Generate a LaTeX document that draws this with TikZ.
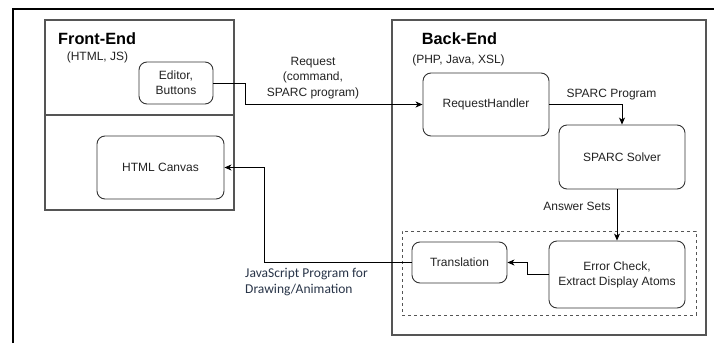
\documentclass[tikz,border=0pt]{standalone}
\usepackage{fontspec}
\setmainfont{Liberation Sans}
\newfontfamily\calfont{Carlito}
\usetikzlibrary{arrows.meta}
\definecolor{boxgray}{RGB}{51,51,51}
\definecolor{framegray}{RGB}{85,85,85}
\definecolor{txtgray}{RGB}{34,34,34}
\definecolor{jsblue}{RGB}{40,52,72}
\tikzset{
  rbox/.style={draw=boxgray, line width=0.9pt, rounded corners=8pt, align=center,
    inner sep=0pt, text=txtgray, font=\fontsize{12}{15}\selectfont},
  frame/.style={draw=framegray, line width=1.1pt, inner sep=0pt},
  conn/.style={draw=black, line width=0.8pt},
  arr/.style={conn, -{Stealth[length=7pt,width=6pt,inset=2pt]}},
  lbl/.style={text=txtgray, align=center, inner sep=0pt, font=\fontsize{12}{15.5}\selectfont},
  ttl/.style={inner sep=0pt, font=\fontsize{16.3}{18}\selectfont\bfseries},
}
\begin{document}
\begin{tikzpicture}[x=1pt,y=-1pt]
\useasboundingbox (0,0) rectangle (714,343);
% outer frame (partial)
\coordinate (o1) at (13,343);
\coordinate (o2) at (13,9);
\coordinate (o3) at (714,9);
\draw[line width=1.2pt] (o1) -- (o2) -- (o3);
% front-end
\node[frame, minimum width=189pt, minimum height=95pt] (fetop) at (139.5,67.5) {};
\node[frame, minimum width=189pt, minimum height=95pt] (febot) at (139.5,162.5) {};
\node[ttl, anchor=west] (fet) at (58,39) {Front-End};
\node[lbl] (fes) at (97.5,57) {(HTML, JS)};
% back-end
\node[frame, minimum width=314pt, minimum height=315pt] (be) at (549,177.5) {};
\node[draw=framegray, dashed, line width=0.9pt, minimum width=294pt, minimum height=84pt, inner sep=0pt] (dash) at (549,273) {};
\node[ttl] (bet) at (459.5,39) {Back-End};
\node[lbl] (bes) at (458.5,60) {(PHP, Java, XSL)};
% boxes
\node[rbox, minimum width=74pt, minimum height=42pt] (ed) at (176,83) {Editor,\\Buttons};
\node[rbox, minimum width=127pt, minimum height=63pt] (hc) at (160.5,167.5) {HTML Canvas};
\node[rbox, minimum width=126pt, minimum height=63pt] (rh) at (486,104.5) {RequestHandler};
\node[rbox, minimum width=126pt, minimum height=64pt] (sol) at (622,157) {SPARC Solver};
\node[rbox, minimum width=95pt, minimum height=41pt] (tr) at (459.5,262.5) {Translation};
\node[rbox, minimum width=136pt, minimum height=67pt] (ec) at (617,274.5) {Error Check,\\Extract Display Atoms};
% connectors
\draw[arr] (ed.east) -- ++(32,0) |- (rh.west);
\draw[arr] (rh.east) -| (sol.north);
\draw[arr] (ec.north|-sol.south) -- (ec.north);
\draw[arr] (ec.west) -- ++(-21,0) |- (tr.east);
\draw[arr] (tr.west) -- ++(-147,0) |- (hc.east);
% labels
\node[lbl] (lreq) at (313,78) {Request\\(command,\\SPARC program)};
\node[lbl] (lsp) at (611.5,95) {SPARC Program};
\node[lbl] (lans) at (577,206) {Answer Sets};
\node[anchor=west, align=left, inner sep=0pt, text=jsblue, font=\calfont\fontsize{13.5}{16}\selectfont] (ljs) at (245,282) {JavaScript Program for\\Drawing/Animation};
\end{tikzpicture}
\end{document}
